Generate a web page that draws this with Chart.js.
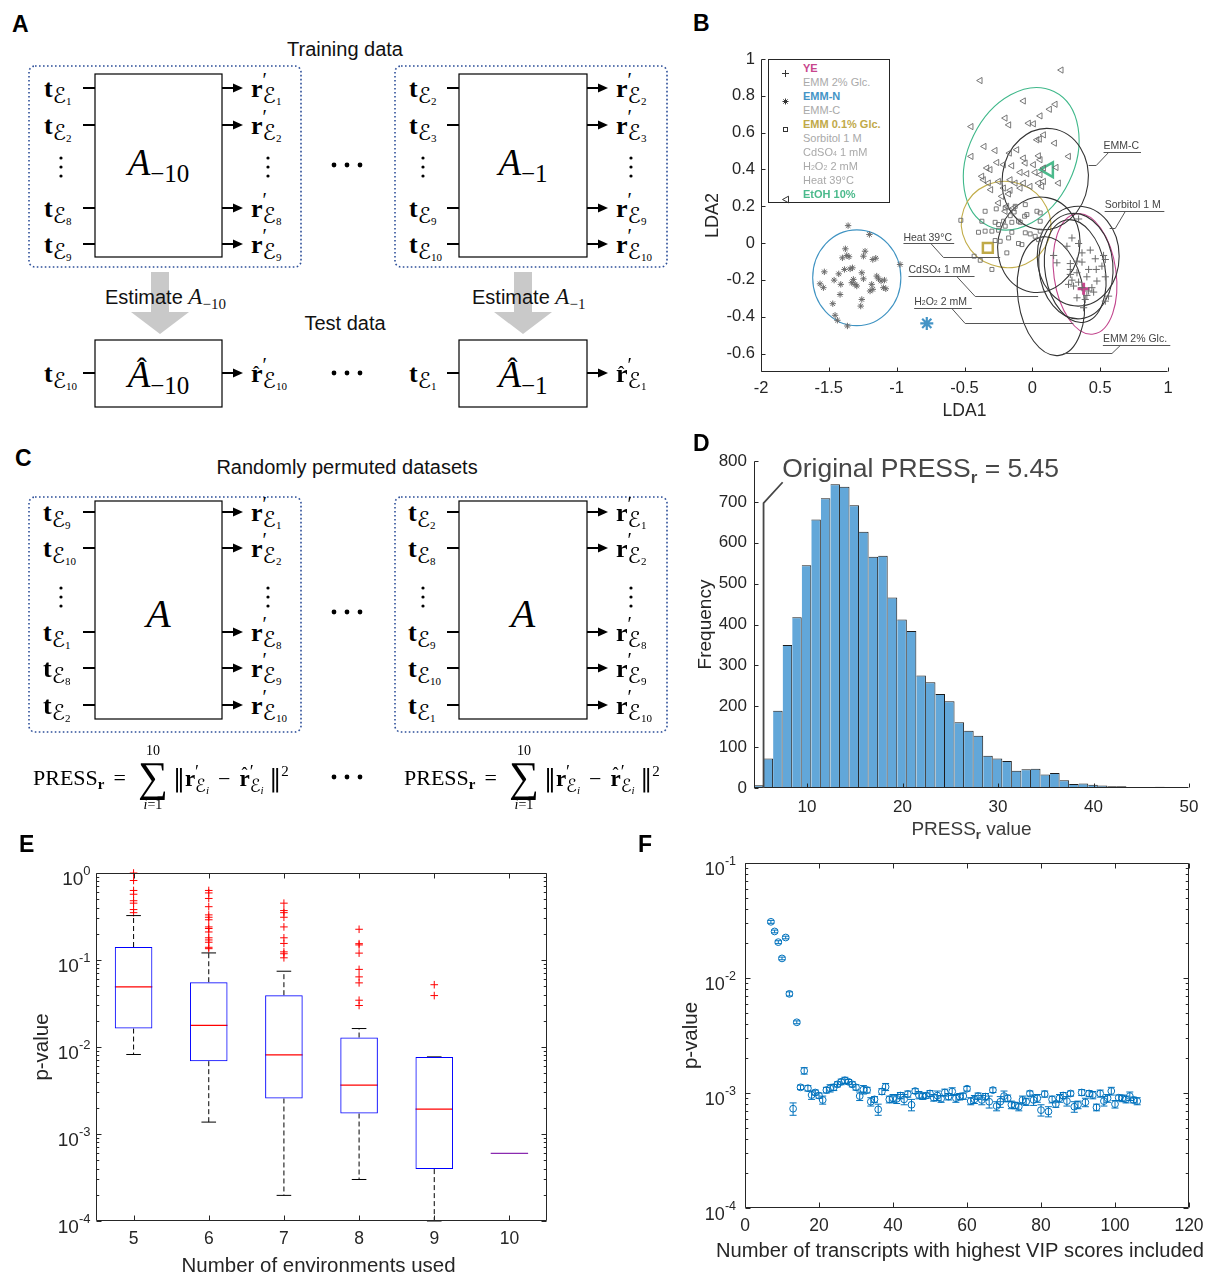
<!DOCTYPE html>
<html>
<head>
<meta charset="utf-8">
<title>Figure</title>
<script src="https://cdn.jsdelivr.net/npm/chart.js"></script>
<style>
html,body{margin:0;padding:0;background:#fff;}
#page{position:relative;width:1206px;height:1275px;overflow:hidden;font-family:"Liberation Sans",Arial,Helvetica,sans-serif;color:#111;}
#page canvas{position:absolute;}
#diag{position:absolute;left:0;top:0;}
.t{position:absolute;white-space:nowrap;line-height:1;}
.pl{font-weight:bold;font-size:23px;color:#000;}
.cap{font-size:20px;color:#111;}
.m{position:absolute;white-space:nowrap;line-height:1;font-family:"Liberation Serif","DejaVu Serif",serif;font-size:26px;color:#000;}
.m b{font-weight:bold;}
.e{font-family:"DejaVu Serif","DejaVu Sans",serif;font-size:22px;position:relative;top:6px;}
.n{font-family:"Liberation Serif",serif;font-size:11px;position:relative;top:2px;}
.pr{display:inline-block;width:0;position:relative;top:-10px;font-size:20px;}
.hb{display:inline-block;position:relative;}
.hat{position:absolute;left:2px;top:2px;font-size:19px;line-height:1;font-weight:normal;}
.big{font-size:37px;}
.big i{font-style:italic;}
.bsub{font-size:25px;position:relative;top:7px;}
.bhat{position:absolute;left:9px;top:-3px;font-size:30px;line-height:1;}
.est{position:absolute;white-space:nowrap;line-height:1;font-size:20px;color:#111;}
.est .mi{font-family:"Liberation Serif",serif;font-style:italic;font-size:23px;}
.est .ms{font-family:"Liberation Serif",serif;font-style:normal;font-size:15px;position:relative;top:5px;}
.fm{position:absolute;display:flex;align-items:center;white-space:nowrap;font-family:"Liberation Serif","DejaVu Serif",serif;font-size:22px;color:#000;line-height:1;}
.fm .eq{margin:0 12px 0 9px;}
.sum{display:flex;flex-direction:column;align-items:center;margin:0 5px 0 0;}
.sum .lim{font-size:14px;line-height:1;}
.sum .sig{font-size:42px;line-height:0.95;}
.fm b.fs{font-size:15px;position:relative;top:4px;}
.fm .nrm{font-family:"DejaVu Serif",serif;font-size:24px;}
.fm b{font-size:23px;}
.e2{font-family:"DejaVu Serif","DejaVu Sans",serif;font-size:18px;position:relative;top:6px;}
.n2{font-family:"Liberation Serif",serif;font-size:11px;position:relative;top:2px;font-style:italic;}
.pr2{display:inline-block;width:0;position:relative;top:-8px;font-size:18px;}
.hat2{position:absolute;left:2px;top:-2px;font-size:18px;line-height:1;font-weight:normal;}
.fm .mn{margin:0 9px;}
.fm sup{font-size:15px;position:relative;top:-2px;}
.lab{position:absolute;white-space:nowrap;line-height:1;font-size:10.5px;color:#444;}
.lab small,.leg small{font-size:7px;}
#legB{position:absolute;left:768px;top:59px;width:120px;height:142px;border:1px solid #262626;background:#fff;}
.leg{position:absolute;left:34px;white-space:nowrap;line-height:1;font-size:11px;}
.legm{position:absolute;left:12px;}
</style>
</head>
<body>
<div id="page">
<svg id="diag" width="1206" height="1275"></svg>
<canvas id="cB"></canvas>
<canvas id="cD"></canvas>
<canvas id="cE"></canvas>
<canvas id="cF"></canvas>
</div>
<script>
// ======================= DATA =======================
// ---- Panel B : LDA scores [LDA1, LDA2] ----
const bXTicks = [-2, -1.5, -1, -0.5, 0, 0.5, 1];
const bYTicks = [-0.6, -0.4, -0.2, 0, 0.2, 0.4, 0.6, 0.8, 1];
const emmN = [[-1.358,0.095],[-1.201,0.047],[-0.975,-0.116],[-1.378,-0.031],[-1.400,-0.080],[-1.351,-0.074],[-1.233,-0.044],[-1.245,-0.071],[-1.176,-0.089],[-1.154,-0.082],[-1.533,-0.156],[-1.427,-0.167],[-1.385,-0.143],[-1.343,-0.140],[-1.326,-0.134],[-1.257,-0.161],[-1.245,-0.194],[-1.319,-0.197],[-1.307,-0.224],[-1.294,-0.233],[-1.331,-0.215],[-1.461,-0.201],[-1.565,-0.221],[-1.540,-0.242],[-1.412,-0.224],[-1.147,-0.179],[-1.134,-0.194],[-1.115,-0.206],[-1.090,-0.201],[-1.098,-0.242],[-1.080,-0.248],[-1.184,-0.224],[-1.176,-0.251],[-1.196,-0.260],[-1.417,-0.279],[-1.257,-0.306],[-1.265,-0.342],[-1.471,-0.329],[-1.454,-0.392],[-1.437,-0.419],[-1.363,-0.450],[-1.368,-0.067]];
const etoh = [[0.213,0.940],[-0.384,0.883],[-0.065,0.772],[0.169,0.754],[0.127,0.727],[-0.200,0.679],[-0.173,0.642],[0.058,0.691],[0.009,0.648],[-0.028,0.651],[-0.451,0.633],[0.083,0.588],[0.053,0.565],[0.034,0.561],[0.164,0.543],[-0.355,0.525],[-0.274,0.503],[-0.114,0.507],[-0.168,0.489],[-0.065,0.462],[0.046,0.474],[0.058,0.453],[0.267,0.471],[-0.451,0.471],[-0.261,0.438],[-0.212,0.426],[-0.151,0.420],[-0.052,0.435],[0.009,0.426],[0.083,0.408],[0.176,0.411],[-0.335,0.408],[-0.311,0.399],[-0.372,0.363],[-0.089,0.384],[-0.040,0.377],[0.021,0.384],[0.058,0.372],[0.193,0.326],[-0.360,0.344],[-0.323,0.326],[-0.249,0.335],[-0.163,0.344],[-0.126,0.326],[-0.065,0.326],[0.046,0.326],[0.070,0.308],[-0.306,0.290],[-0.212,0.299],[-0.163,0.287],[-0.089,0.299],[0.083,0.335],[-0.225,0.254],[-0.175,0.267],[-0.249,0.218],[-0.188,0.200],[-0.139,0.191],[-0.200,0.173],[-0.016,0.308]];
const glc01 = [[-0.527,0.124],[-0.348,0.173],[-0.266,0.186],[-0.200,0.191],[-0.126,0.200],[-0.052,0.209],[0.034,0.173],[0.058,0.119],[-0.040,0.155],[-0.163,0.149],[-0.372,0.119],[-0.274,0.113],[-0.212,0.119],[-0.151,0.113],[-0.102,0.119],[-0.249,0.101],[-0.200,0.092],[-0.298,0.065],[-0.249,0.070],[-0.397,0.059],[-0.348,0.065],[-0.151,0.059],[-0.052,0.056],[-0.016,0.050],[0.021,0.037],[0.058,0.065],[-0.274,0.014],[-0.237,0.010],[-0.102,-0.002],[-0.077,-0.008],[-0.188,-0.053],[-0.429,-0.071],[-0.384,-0.093],[-0.298,-0.143],[0.046,0.019],[0.058,0.164],[-0.134,0.169],[-0.089,0.113],[-0.175,0.028],[-0.057,0.146]];
const ye = [[0.341,0.131],[0.292,0.028],[0.255,-0.017],[0.341,-0.002],[0.427,-0.038],[0.366,-0.053],[0.157,-0.067],[0.464,-0.085],[0.525,-0.067],[0.538,-0.089],[0.329,-0.098],[0.366,-0.103],[0.280,-0.111],[0.415,-0.143],[0.471,-0.143],[0.513,-0.125],[0.329,-0.161],[0.280,-0.170],[0.402,-0.183],[0.538,-0.183],[0.292,-0.201],[0.341,-0.212],[0.439,-0.242],[0.415,-0.260],[0.452,-0.266],[0.304,-0.233],[0.267,-0.224],[0.402,-0.284],[0.329,-0.297],[0.390,-0.306],[0.538,-0.315],[0.562,-0.288],[0.378,-0.351],[0.366,-0.242],[0.476,-0.206],[0.181,-0.107],[0.280,-0.143]];
const centroidEmmN = [-0.778, -0.436];
const centroidEtoh = [0.12, 0.399];
const centroidGlc01 = [-0.328, -0.026];
const centroidYe = [0.378, -0.248];
// confidence ellipses: [centre LDA1, centre LDA2, semi-axis (LDA1 units), semi-axis (LDA2 units), tilt in degrees]
const ellipseGeom = [[-1.294,-0.188,0.325,0.26,0],[-0.082,0.458,0.391,0.406,26],[-0.193,0.101,0.332,0.233,20],[0.388,-0.167,0.229,0.33,-8],[0.095,0.348,0.317,0.276,8],[0.048,-0.009,0.302,0.26,10],[0.137,-0.288,0.243,0.325,-8],[0.338,-0.071,0.302,0.271,0],[0.321,-0.125,0.273,0.287,-5],[0.316,-0.152,0.221,0.282,-10]];
const legendNames = ['YE','EMM 2% Glc.','EMM-N','EMM-C','EMM 0.1% Glc.','Sorbitol 1 M','CdSO<small>4</small> 1 mM','H<small>2</small>O<small>2</small> 2 mM','Heat 39°C','EtOH 10%'];
const leaderNames = ['EMM-C','Sorbitol 1 M','Heat 39°C','CdSO<small>4</small> 1 mM','H<small>2</small>O<small>2</small> 2 mM','EMM 2% Glc.'];
const leaderLabelAt = [[0.525,0.494],[0.533,0.173],[-0.950,-0.002],[-0.913,-0.179],[-0.871,-0.351],[0.520,-0.551]];
const leaderUnderlineEnd = [0.801,0.973,-0.576,-0.426,-0.446,1.017];
const leaderPath = [[[0.562,0.494],[0.471,0.422],[0.415,0.422]],[[0.685,0.173],[0.611,0.083],[0.570,0.083]],[[-0.748,-0.002],[-0.655,-0.074],[-0.237,-0.074]],[[-0.557,-0.179],[-0.421,-0.288],[0.043,-0.288]],[[-0.593,-0.351],[-0.495,-0.432],[0.302,-0.432]],[[0.648,-0.551],[0.587,-0.595],[0.230,-0.595]]];

// ---- Panel D : histogram of PRESS_r ----
const dXTicks = [10, 20, 30, 40, 50];
const dYTicks = [0, 100, 200, 300, 400, 500, 600, 700, 800];
const binStart = 4.45, binWidth = 1;
const pressCounts = [7,72,189,350,418,545,657,709,743,737,692,627,566,568,466,412,384,275,259,230,212,161,140,128,79,72,66,42,46,47,33,37,19,10,11,8,6,4,4,2,2,1,3,1,1];
const originalPress = 5.45;
const annotElbow = [5.45, 697], annotEnd = [7.45, 748], annotText = [7.4, 761];

// ---- Panel E : box plots of p-values ----
const envCounts = [5, 6, 7, 8, 9, 10];
const boxQ1 = [0.0163, 0.00687, 0.00256, 0.00172, 0.000395, 0.000598];
const boxMed = [0.049, 0.0177, 0.0081, 0.00365, 0.00193, 0.000598];
const boxQ3 = [0.141, 0.0555, 0.0394, 0.01285, 0.0077, 0.000598];
const whiskLo = [0.0082, 0.00137, 0.000197, 0.0003, 0.0001, 0.000598];
const whiskHi = [0.324, 0.1206, 0.0743, 0.0163, 0.0077, 0.000598];
const outliers5 = [1.0, 0.82, 0.63, 0.57, 0.48, 0.45, 0.38, 0.35];
const outliers6 = [0.63, 0.59, 0.51, 0.41, 0.33, 0.31, 0.29, 0.24, 0.23, 0.21, 0.18, 0.17, 0.16, 0.14, 0.135];
const outliers7 = [0.45, 0.37, 0.35, 0.31, 0.24, 0.18, 0.155, 0.124, 0.118, 0.106];
const outliers8 = [0.2255, 0.154, 0.149, 0.12, 0.078, 0.064, 0.0546, 0.0345, 0.030];
const outliers9 = [0.052, 0.039];
const outliers10 = [];
const eYDecades = [-4, -3, -2, -1];

// ---- Panel F : p-value vs number of transcripts ----
const fXTicks = [0, 20, 40, 60, 80, 100, 120];
const fYDecades = [-4, -3, -2];
const nTranscripts = [7,8,9,10,11,12,13,14,15,16,17,18,19,20,21,22,23,24,25,26,27,28,29,30,31,32,33,34,35,36,37,38,39,40,41,42,43,44,45,46,47,48,49,50,51,52,53,54,55,56,57,58,59,60,61,62,63,64,65,66,67,68,69,70,71,72,73,74,75,76,77,78,79,80,81,82,83,84,85,86,87,88,89,90,91,92,93,94,95,96,97,98,99,100,101,102,103,104,105,106];
const pF = [0.0308,0.0254,0.0205,0.0148,0.0225,0.00728,0.00073,0.00412,0.00112,0.00156,0.00110,0.00096,0.00101,0.00095,0.00087,0.00106,0.00110,0.00112,0.00119,0.00125,0.00129,0.00125,0.00119,0.00112,0.00094,0.00107,0.00106,0.00084,0.00088,0.00072,0.00103,0.00113,0.00088,0.00090,0.00089,0.00095,0.00088,0.00098,0.00079,0.00104,0.00096,0.00094,0.00095,0.00099,0.00091,0.00095,0.00089,0.00101,0.00093,0.00103,0.00090,0.00093,0.00094,0.00109,0.00085,0.00088,0.00094,0.00087,0.00093,0.00084,0.00106,0.00077,0.00084,0.00094,0.00090,0.00079,0.00078,0.00076,0.00087,0.00084,0.00099,0.00087,0.00090,0.00071,0.00098,0.00069,0.00088,0.00080,0.00090,0.00095,0.00085,0.00099,0.00076,0.00079,0.00101,0.00083,0.00099,0.00096,0.00075,0.00099,0.00085,0.00090,0.00104,0.00080,0.00091,0.00090,0.00088,0.00094,0.00087,0.00085];
const errF = [0.0009,0.0007,0.0006,0.0004,0.0006,0.0003,0.00009,0.00012,0.00005,0.0001,0.00006,0.00008,0.00005,0.00005,0.00007,0.00006,0.00008,0.00007,0.00006,0.00007,0.00008,0.00006,0.00006,0.00006,0.00008,0.00009,0.00006,0.00007,0.00005,0.00008,0.00006,0.00008,0.00006,0.00007,0.00008,0.00006,0.00009,0.00006,0.00009,0.00005,0.00007,0.00006,0.00005,0.00006,0.00006,0.00009,0.00006,0.00007,0.00006,0.00008,0.00007,0.00006,0.00006,0.00005,0.00006,0.00007,0.00006,0.00008,0.00006,0.0001,0.00005,0.00007,0.00009,0.0001,0.00006,0.00006,0.00005,0.00006,0.00007,0.00006,0.00005,0.00009,0.00007,0.00008,0.00006,0.00007,0.00006,0.00005,0.00007,0.00006,0.00008,0.00005,0.00008,0.00006,0.00006,0.00007,0.00006,0.00007,0.00005,0.00007,0.00008,0.00007,0.00008,0.00006,0.00005,0.00006,0.00006,0.00008,0.00005,0.00006];

// ---- Panels A / C : diagram labels ----
const aLeftIn = ['1','2','8','9'], aLeftOut = ['1','2','8','9'];
const aRightIn = ['2','3','9','10'], aRightOut = ['2','3','9','10'];
const cLeftIn = ['9','10','1','8','2'], cRightIn = ['2','8','9','10','1'], cOut = ['1','2','8','9','10'];

// ======================= STYLE / LAYOUT =======================
const FF = '"Liberation Sans", Arial, Helvetica, sans-serif';
const AXC = '#262626';
const ellipseColors = ['#3f93c2','#3fb88a','#c2ad4a','#c2458d','#333','#333','#333','#333','#333','#333'];
const legendColors = ['#c8468d','#a9a9a9','#4494c6','#a9a9a9','#bfa948','#a9a9a9','#a9a9a9','#a9a9a9','#a9a9a9','#4bba8c'];
const legendBold = [1,0,1,0,1,0,0,0,0,1];
const legendMarker = ['+','','*','','s','','','','','<'];

Chart.defaults.font.family = FF;
Chart.defaults.color = AXC;
Chart.defaults.animation = false;
Chart.defaults.responsive = false;
Chart.defaults.events = [];
Chart.defaults.plugins.legend.display = false;
Chart.defaults.plugins.tooltip.enabled = false;

const page = document.getElementById('page');
function div(cls, x, y, html, extra) {
  const d = document.createElement('div');
  d.className = cls; d.style.left = x + 'px'; d.style.top = y + 'px';
  if (extra) d.style.cssText += ';' + extra;
  d.innerHTML = html; page.appendChild(d); return d;
}
function place(cv, r, a, yw, xh) {
  cv.width = r.w; cv.height = r.h;
  cv.style.left = r.x + 'px'; cv.style.top = r.y + 'px';
  cv.style.width = r.w + 'px'; cv.style.height = r.h + 'px';
  return {left: a.l - r.x - yw, top: a.t - r.y, right: r.x + r.w - a.r, bottom: r.y + r.h - a.b - xh};
}
function linAxis(min, max, ticksArr, fs, pad, fit, isX, title) {
  const ax = {type: 'linear', min: min, max: max, offset: false,
    afterBuildTicks: s => { s.ticks = ticksArr.map(v => ({value: v})); },
    ticks: {font: {size: fs}, color: AXC, padding: pad, autoSkip: false, maxRotation: 0, minRotation: 0,
      callback: v => String(Math.round(v * 1000) / 1000)},
    grid: {display: false, drawTicks: false, tickLength: 0}, border: {display: false},
    afterFit: s => { if (isX) { s.height = fit; s.paddingLeft = 0; s.paddingRight = 0; } else { s.width = fit; s.paddingTop = 0; s.paddingBottom = 0; } }
  };
  if (title) ax.title = title;
  return ax;
}
function logTicks(decades) {
  const out = [];
  decades.forEach(d => { for (let k = 1; k <= 9; k++) out.push(+(k * Math.pow(10, d)).toPrecision(6)); });
  out.push(Math.pow(10, decades[decades.length - 1] + 1));
  return out;
}
function logAxis(min, max, ticksArr, fit, title) {
  return {type: 'logarithmic', min: min, max: max,
    afterBuildTicks: s => { s.ticks = ticksArr.map(v => ({value: v})); },
    ticks: {display: false}, grid: {display: false, drawTicks: false, tickLength: 0}, border: {display: false},
    afterFit: s => { s.width = fit; s.paddingTop = 0; s.paddingBottom = 0; },
    title: title};
}
function isDecade(v) { const l = Math.log10(v); return Math.abs(l - Math.round(l)) < 1e-9; }
function matlabAxes(o) {
  return {id: 'matlabAxes', afterDatasetsDraw(chart) {
    const {ctx, chartArea: a} = chart; const X = chart.scales.x, Y = chart.scales.y;
    const L = Math.round(a.left) + 0.5, R = Math.round(a.right) - 0.5, T = Math.round(a.top) + 0.5, B = Math.round(a.bottom) - 0.5;
    ctx.save(); ctx.strokeStyle = AXC; ctx.lineWidth = 1;
    ctx.beginPath();
    if (o.box) ctx.rect(L, T, R - L, B - T); else { ctx.moveTo(L, T); ctx.lineTo(L, B); ctx.lineTo(R, B); }
    const tl = o.len || 5;
    X.ticks.forEach(t => { const p = Math.round(X.getPixelForValue(t.value)) + 0.5; ctx.moveTo(p, B); ctx.lineTo(p, B - tl); if (o.box) { ctx.moveTo(p, T); ctx.lineTo(p, T + tl); } });
    Y.ticks.forEach(t => { const major = !o.logY || isDecade(t.value); const l = major ? tl : tl * 0.55; const p = Math.round(Y.getPixelForValue(t.value)) + 0.5; ctx.moveTo(L, p); ctx.lineTo(L + l, p); if (o.box) { ctx.moveTo(R, p); ctx.lineTo(R - l, p); } });
    ctx.stroke();
    if (o.logY) {
      ctx.fillStyle = AXC; ctx.textBaseline = 'alphabetic';
      Y.ticks.forEach(t => {
        if (!isDecade(t.value)) return;
        const p = Y.getPixelForValue(t.value); const ex = String(Math.round(Math.log10(t.value)));
        ctx.font = o.expFont; const ew = ctx.measureText(ex).width; const xr = L - o.labGap;
        ctx.textAlign = 'left'; ctx.fillText(ex, xr - ew, p + o.expDy);
        ctx.font = o.baseFont; ctx.textAlign = 'right'; ctx.fillText('10', xr - ew, p + o.baseDy);
      });
    }
    if (o.xTitle) {
      ctx.font = o.xTitle.font; ctx.fillStyle = AXC; ctx.textAlign = 'center'; ctx.textBaseline = 'alphabetic';
      const w = ctx.measureText(o.xTitle.text).width;
      ctx.translate(a.left + o.xTitle.dx, a.bottom + o.xTitle.dy);
      ctx.scale(o.xTitle.width / w, 1);
      ctx.fillText(o.xTitle.text, 0, 0);
    }
    ctx.restore();
  }};
}
function rich(ctx, parts, x, y, color, align) {
  ctx.fillStyle = color; ctx.textBaseline = 'alphabetic'; ctx.textAlign = 'left';
  let w = 0; parts.forEach(p => { ctx.font = p[1]; w += ctx.measureText(p[0]).width; });
  let cx = align === 'center' ? x - w / 2 : x;
  parts.forEach(p => { ctx.font = p[1]; ctx.fillText(p[0], cx, y + (p[2] || 0)); cx += ctx.measureText(p[0]).width; });
}
const xy = arr => arr.map(p => ({x: p[0], y: p[1]}));
const crisp = v => Math.round(v) + 0.5;

// ======================= DIAGRAMS A & C =======================
let svg = '';
function Ln(x1, y1, x2, y2, w) { svg += `<line x1="${x1}" y1="${y1}" x2="${x2}" y2="${y2}" stroke="#000" stroke-width="${w || 2}"/>`; }
function Rc(x, y, w, h) { svg += `<rect x="${x}" y="${y}" width="${w}" height="${h}" fill="#fff" stroke="#000" stroke-width="1.2"/>`; }
function DB(x, y, w, h) { svg += `<rect x="${x}" y="${y}" width="${w}" height="${h}" rx="6" ry="6" fill="none" stroke="#2d4f99" stroke-width="1.6" stroke-dasharray="1.6 2.4"/>`; }
function Arw(x1, x2, y) { Ln(x1, y, x2 - 7, y, 2); svg += `<polygon points="${x2 - 10},${y - 4.5} ${x2},${y} ${x2 - 10},${y + 4.5}" fill="#000"/>`; }
function Dot(x, y, r) { svg += `<circle cx="${x}" cy="${y}" r="${r}" fill="#000"/>`; }
function GA(cx) { svg += `<polygon points="${cx - 9},272 ${cx + 9},272 ${cx + 9},312 ${cx + 29},312 ${cx},334 ${cx - 29},312 ${cx - 9},312" fill="#c9c9c9"/>`; }
function vdots(x, y) { Dot(x, y - 9, 1.6); Dot(x, y, 1.6); Dot(x, y + 9, 1.6); }
function hdots(y) { Dot(334, y, 2.4); Dot(347, y, 2.4); Dot(360, y, 2.4); }

// A
DB(29, 66, 272, 201); DB(395, 66, 272, 201);
Rc(95, 74, 127, 183); Rc(459, 74, 128, 183);
Rc(95, 340, 127, 67); Rc(459, 340, 128, 67);
const aRows = [88, 125, 208, 244];
aRows.forEach(y => { Ln(83, y, 95, y); Arw(222, 243, y); Ln(447, y, 459, y); Arw(587, 608, y); });
Ln(83, 373, 95, 373); Arw(222, 243, 373); Ln(447, 373, 459, 373); Arw(587, 608, 373);
GA(160); GA(523);
vdots(61, 167); vdots(268, 167); vdots(423, 167); vdots(631, 167);
hdots(165); hdots(373);
// C
DB(29, 497, 272, 235); DB(395, 497, 272, 235);
Rc(95, 501, 127, 218); Rc(459, 501, 128, 218);
const cRows = [512, 548, 632, 668, 705];
cRows.forEach(y => { Ln(83, y, 95, y); Arw(222, 243, y); Ln(447, y, 459, y); Arw(587, 608, y); });
vdots(61, 597); vdots(268, 597); vdots(423, 597); vdots(631, 597);
hdots(612); hdots(777);
document.getElementById('diag').innerHTML = svg;

const Tl = k => `<b>t</b><span class="e">ℰ<span class="n">${k}</span></span>`;
const Rl = (k, hat) => `<span class="hb"><b>r</b>${hat ? '<span class="hat">ˆ</span>' : ''}</span><span class="pr">′</span><span class="e">ℰ<span class="n">${k}</span></span>`;
function mlab(x, y, html) { return div('m', x, y - 12, html); }

// panel letters
div('t pl', 12, 13, 'A'); div('t pl', 693, 12, 'B'); div('t pl', 15, 447, 'C');
div('t pl', 693, 432, 'D'); div('t pl', 19, 833, 'E'); div('t pl', 638, 833, 'F');
// captions
div('t cap', 345, 39, 'Training data', 'transform:translateX(-50%)');
div('t cap', 345, 313, 'Test data', 'transform:translateX(-50%)');
div('t cap', 347, 457, 'Randomly permuted datasets', 'transform:translateX(-50%)');
// A labels
aRows.forEach((y, i) => { mlab(44, y, Tl(aLeftIn[i])); mlab(251, y, Rl(aLeftOut[i])); mlab(409, y, Tl(aRightIn[i])); mlab(616, y, Rl(aRightOut[i])); });
mlab(44, 373, Tl('10')); mlab(251, 373, Rl('10', true)); mlab(409, 373, Tl('1')); mlab(616, 373, Rl('1', true));
div('m big', 158.5, 144, '<i>A</i><span class="bsub">−10</span>', 'transform:translateX(-50%)');
div('m big', 523, 144, '<i>A</i><span class="bsub">−1</span>', 'transform:translateX(-50%)');
div('m big', 158.5, 356, '<span class="hb"><i>A</i><span class="bhat">ˆ</span></span><span class="bsub">−10</span>', 'transform:translateX(-50%)');
div('m big', 523, 356, '<span class="hb"><i>A</i><span class="bhat">ˆ</span></span><span class="bsub">−1</span>', 'transform:translateX(-50%)');
div('est', 105, 285, 'Estimate <span class="mi">A</span><span class="ms">−10</span>');
div('est', 472, 285, 'Estimate <span class="mi">A</span><span class="ms">−1</span>');
// C labels
cRows.forEach((y, i) => { mlab(43, y, Tl(cLeftIn[i])); mlab(251, y, Rl(cOut[i])); mlab(408, y, Tl(cRightIn[i])); mlab(616, y, Rl(cOut[i])); });
div('m big', 158.5, 594, '<i>A</i>', 'transform:translateX(-50%);font-size:40px');
div('m big', 523, 594, '<i>A</i>', 'transform:translateX(-50%);font-size:40px');
const formulaHTML = '<span>PRESS<b class="fs">r</b><span class="eq">=</span></span>' +
  '<span class="sum"><span class="lim">10</span><span class="sig">∑</span><span class="lim"><i>i</i>=1</span></span>' +
  '<span><span class="nrm">‖</span><b>r</b><span class="pr2">′</span><span class="e2">ℰ<span class="n2">i</span></span><span class="mn">−</span><span class="hb"><b>r</b><span class="hat2">ˆ</span></span><span class="pr2">′</span><span class="e2">ℰ<span class="n2">i</span></span>&nbsp;<span class="nrm">‖</span><sup>2</sup></span>';
div('fm', 33, 744, formulaHTML);
div('fm', 404, 744, formulaHTML);

// ======================= PANEL B =======================
const cB = document.getElementById('cB');
const gB = place(cB, {x: 690, y: 40, w: 516, h: 390}, {l: 761, t: 59, r: 1168, b: 372}, 59, 50);
const ellipsePluginB = {id: 'ellB', beforeDatasetsDraw(chart) {
  const {ctx} = chart; const X = chart.scales.x, Y = chart.scales.y;
  const ux = Math.abs(X.getPixelForValue(1) - X.getPixelForValue(0)), uy = Math.abs(Y.getPixelForValue(1) - Y.getPixelForValue(0));
  ctx.save(); ctx.lineWidth = 1.1;
  ellipseGeom.forEach((g, i) => { ctx.beginPath(); ctx.ellipse(X.getPixelForValue(g[0]), Y.getPixelForValue(g[1]), g[2] * ux, g[3] * uy, g[4] * Math.PI / 180, 0, Math.PI * 2); ctx.strokeStyle = ellipseColors[i]; ctx.stroke(); });
  ctx.restore();
}};
const leaderPluginB = {id: 'leadB', afterDatasetsDraw(chart) {
  const {ctx} = chart; const X = chart.scales.x, Y = chart.scales.y;
  ctx.save(); ctx.strokeStyle = '#555'; ctx.lineWidth = 1;
  leaderLabelAt.forEach((p, i) => {
    ctx.beginPath();
    const yy = crisp(Y.getPixelForValue(p[1]));
    ctx.moveTo(X.getPixelForValue(p[0]), yy); ctx.lineTo(X.getPixelForValue(leaderUnderlineEnd[i]), yy);
    leaderPath[i].forEach((q, j) => { const px = X.getPixelForValue(q[0]), py = crisp(Y.getPixelForValue(q[1])); if (j === 0) ctx.moveTo(px, py); else ctx.lineTo(px, py); });
    ctx.stroke();
  });
  ctx.restore();
}};
const chartB = new Chart(cB, {
  type: 'scatter',
  data: {datasets: [
    {data: xy(emmN), pointStyle: 'star', pointRadius: 3.2, pointBorderColor: '#6a6a6a', pointBorderWidth: 1},
    {data: xy(etoh), pointStyle: 'triangle', pointRotation: -90, pointRadius: 3.6, pointBorderColor: '#6a6a6a', pointBackgroundColor: 'rgba(0,0,0,0)', pointBorderWidth: 0.9},
    {data: xy(glc01), pointStyle: 'rect', pointRadius: 2.8, pointBorderColor: '#6a6a6a', pointBackgroundColor: 'rgba(0,0,0,0)', pointBorderWidth: 0.9},
    {data: xy(ye), pointStyle: 'cross', pointRadius: 3.6, pointBorderColor: '#6a6a6a', pointBorderWidth: 1},
    {data: xy([centroidEmmN]), pointStyle: 'star', pointRadius: 6.5, pointBorderColor: '#4494c6', pointBorderWidth: 2.2},
    {data: xy([centroidEtoh]), pointStyle: 'triangle', pointRotation: -90, pointRadius: 8.5, pointBorderColor: '#4bba8c', pointBackgroundColor: 'rgba(0,0,0,0)', pointBorderWidth: 2.5},
    {data: xy([centroidGlc01]), pointStyle: 'rect', pointRadius: 7, pointBorderColor: '#bfa948', pointBackgroundColor: 'rgba(0,0,0,0)', pointBorderWidth: 2.5},
    {data: xy([centroidYe]), pointStyle: 'cross', pointRadius: 6, pointBorderColor: '#c8468d', pointBorderWidth: 3}
  ]},
  options: {devicePixelRatio: 1, layout: {padding: gB}, scales: {
    x: linAxis(-2, 1, bXTicks, 16.5, 7, 50, true, {display: true, text: 'LDA1', font: {size: 17.5}, color: AXC, padding: 0}),
    y: linAxis(-0.7, 1, bYTicks, 16.5, 6, 59, false, {display: true, text: 'LDA2', font: {size: 18}, color: AXC, padding: 0})
  }},
  plugins: [ellipsePluginB, leaderPluginB, matlabAxes({box: false, len: 4})]
});
// legend of panel B
const leg = document.createElement('div'); leg.id = 'legB'; page.appendChild(leg);
legendNames.forEach((nm, k) => {
  const d = document.createElement('div'); d.className = 'leg';
  d.style.top = (2.7 + 14 * k) + 'px'; d.style.color = legendColors[k]; d.style.fontWeight = legendBold[k] ? 'bold' : 'normal';
  d.innerHTML = nm; leg.appendChild(d);
  const mk = legendMarker[k]; if (!mk) return;
  let s = '';
  if (mk === '+') s = '<line x1="1" y1="4.5" x2="8" y2="4.5"/><line x1="4.5" y1="1" x2="4.5" y2="8"/>';
  if (mk === '*') s = '<line x1="1.5" y1="4.5" x2="7.5" y2="4.5"/><line x1="4.5" y1="1.5" x2="4.5" y2="7.5"/><line x1="2.4" y1="2.4" x2="6.6" y2="6.6"/><line x1="2.4" y1="6.6" x2="6.6" y2="2.4"/>';
  if (mk === 's') s = '<rect x="2.5" y="2.5" width="4" height="4" fill="none"/>';
  if (mk === '<') s = '<polygon points="1.5,4.5 7.5,1.2 7.5,7.8" fill="none"/>';
  const m = document.createElement('div'); m.className = 'legm'; m.style.top = (3.5 + 14 * k) + 'px';
  m.innerHTML = `<svg width="9" height="9" stroke="#333" stroke-width="1">${s}</svg>`; leg.appendChild(m);
});
// leader labels of panel B
leaderNames.forEach((nm, i) => {
  const px = 690 + chartB.scales.x.getPixelForValue(leaderLabelAt[i][0]);
  const py = 40 + chartB.scales.y.getPixelForValue(leaderLabelAt[i][1]);
  div('lab', px, py - 3 - 8.9, nm);
});

// ======================= PANEL D =======================
const cD = document.getElementById('cD');
const gD = place(cD, {x: 690, y: 440, w: 516, h: 400}, {l: 754, t: 461, r: 1189, b: 788}, 60, 40);
const dAnnotPlugin = {id: 'dAnnot', afterDraw(chart) {
  const {ctx, chartArea: a} = chart; const X = chart.scales.x, Y = chart.scales.y;
  ctx.save(); ctx.strokeStyle = '#474747'; ctx.lineWidth = 1.8; ctx.lineJoin = 'round';
  const x0 = X.getPixelForValue(originalPress);
  ctx.beginPath(); ctx.moveTo(x0, Y.getPixelForValue(0)); ctx.lineTo(x0, Y.getPixelForValue(annotElbow[1]));
  ctx.lineTo(X.getPixelForValue(annotEnd[0]), Y.getPixelForValue(annotEnd[1])); ctx.stroke();
  rich(ctx, [['Original PRESS', '26.5px ' + FF], ['r', 'bold 17px ' + FF, 6], [' = ' + originalPress.toFixed(2), '26.5px ' + FF]],
    X.getPixelForValue(annotText[0]), Y.getPixelForValue(annotText[1]), '#474747', 'left');
  rich(ctx, [['PRESS', '19px ' + FF], ['r', 'bold 13px ' + FF, 4], [' value', '19px ' + FF]], (a.left + a.right) / 2, a.bottom + 47, '#3a3a3a', 'center');
  ctx.restore();
}};
new Chart(cD, {
  type: 'bar',
  data: {datasets: [{data: pressCounts.map((c, i) => ({x: binStart + binWidth * (i + 0.5), y: c})),
    backgroundColor: '#62a7d9', borderColor: '#1c1c1c', borderWidth: 1, borderSkipped: 'left',
    barPercentage: 1, categoryPercentage: 1, inflateAmount: 0}]},
  options: {devicePixelRatio: 1, layout: {padding: gD}, scales: {
    x: linAxis(4.45, 50, dXTicks, 17, 9, 40, true),
    y: linAxis(0, 800, dYTicks, 17, 7, 60, false, {display: true, text: 'Frequency', font: {size: 19}, color: AXC, padding: 0})
  }},
  plugins: [matlabAxes({box: false, len: 4}), dAnnotPlugin]
});

// ======================= PANEL E =======================
const cE = document.getElementById('cE');
const gE = place(cE, {x: 0, y: 840, w: 600, h: 435}, {l: 96, t: 873, r: 547, b: 1221}, 64, 54);
const boxData = [], whiskSegs = [], capPts = [], medPts = [], outPts = [];
const allOutliers = [outliers5, outliers6, outliers7, outliers8, outliers9, outliers10];
envCounts.forEach((x, i) => {
  if (boxQ3[i] > boxQ1[i]) boxData.push({x: x, y: [boxQ1[i], boxQ3[i]]});
  if (whiskHi[i] > boxQ3[i]) whiskSegs.push({x: x, y: boxQ3[i]}, {x: x, y: whiskHi[i]}, {x: x, y: null});
  if (whiskLo[i] < boxQ1[i]) whiskSegs.push({x: x, y: boxQ1[i]}, {x: x, y: whiskLo[i]}, {x: x, y: null});
  if (whiskHi[i] > whiskLo[i]) capPts.push({x: x, y: whiskHi[i]}, {x: x, y: whiskLo[i]});
  medPts.push({x: x, y: boxMed[i]});
  allOutliers[i].forEach(v => outPts.push({x: x, y: v}));
});
new Chart(cE, {
  type: 'bar',
  data: {datasets: [
    {type: 'bar', data: boxData, backgroundColor: 'rgba(0,0,0,0)', borderColor: '#0000ff', borderWidth: 1, borderSkipped: false, barPercentage: 0.5, categoryPercentage: 1, inflateAmount: 0},
    {type: 'line', data: whiskSegs, borderColor: '#000', borderWidth: 1, borderDash: [5, 3], pointRadius: 0, spanGaps: false, fill: false},
    {type: 'scatter', data: capPts, pointStyle: 'line', pointRadius: 7.3, pointBorderColor: '#000', pointBorderWidth: 1, clip: false},
    {type: 'scatter', data: medPts, pointStyle: 'line', pointRadius: 18.7, pointBorderColor: c => c.dataIndex === 5 ? '#8a2bb0' : '#ff0000', pointBorderWidth: 1.2},
    {type: 'scatter', data: outPts, pointStyle: 'cross', pointRadius: 3.8, pointBorderColor: '#ff0000', pointBorderWidth: 1, clip: false}
  ]},
  options: {devicePixelRatio: 1, layout: {padding: gE}, scales: {
    x: linAxis(4.5, 10.5, envCounts, 17.5, 8, 54, true),
    y: logAxis(1e-4, 1, logTicks(eYDecades), 64, {display: true, text: 'p-value', font: {size: 20.5, lineHeight: 1}, color: AXC, padding: 0})
  }},
  plugins: [matlabAxes({box: true, len: 5, logY: true, labGap: 6, baseFont: '19px ' + FF, expFont: '13px ' + FF, baseDy: 12, expDy: 2,
    xTitle: {text: 'Number of environments used', font: '19.5px ' + FF, width: 274, dx: 318.6 - 96, dy: 51}})]
});

// ======================= PANEL F =======================
const cF = document.getElementById('cF');
const gF = place(cF, {x: 600, y: 840, w: 606, h: 435}, {l: 745, t: 863, r: 1189, b: 1208}, 64, 51);
const errSegs = [], errCaps = [], fPts = [];
nTranscripts.forEach((x, i) => {
  errSegs.push({x: x, y: pF[i] - errF[i]}, {x: x, y: pF[i] + errF[i]}, {x: x, y: null});
  errCaps.push({x: x, y: pF[i] - errF[i]}, {x: x, y: pF[i] + errF[i]});
  fPts.push({x: x, y: pF[i]});
});
new Chart(cF, {
  type: 'scatter',
  data: {datasets: [
    {type: 'line', data: errSegs, borderColor: '#0072bd', borderWidth: 1, pointRadius: 0, spanGaps: false, fill: false},
    {data: errCaps, pointStyle: 'line', pointRadius: 3.5, pointBorderColor: '#0072bd', pointBorderWidth: 1},
    {data: fPts, pointStyle: 'circle', pointRadius: 3.4, pointBorderColor: '#0072bd', pointBackgroundColor: 'rgba(0,0,0,0)', pointBorderWidth: 1}
  ]},
  options: {devicePixelRatio: 1, layout: {padding: gF}, scales: {
    x: linAxis(0, 120, fXTicks, 17.5, 8, 51, true),
    y: logAxis(1e-4, 1e-1, logTicks(fYDecades), 64, {display: true, text: 'p-value', font: {size: 20.5, lineHeight: 1}, color: AXC, padding: 0})
  }},
  plugins: [matlabAxes({box: true, len: 5, logY: true, labGap: 9.5, baseFont: '18px ' + FF, expFont: '12.5px ' + FF, baseDy: 12, expDy: 2,
    xTitle: {text: 'Number of transcripts with highest VIP scores included', font: '19.5px ' + FF, width: 488, dx: 960 - 745, dy: 49}})]
});
</script>
</body>
</html>
